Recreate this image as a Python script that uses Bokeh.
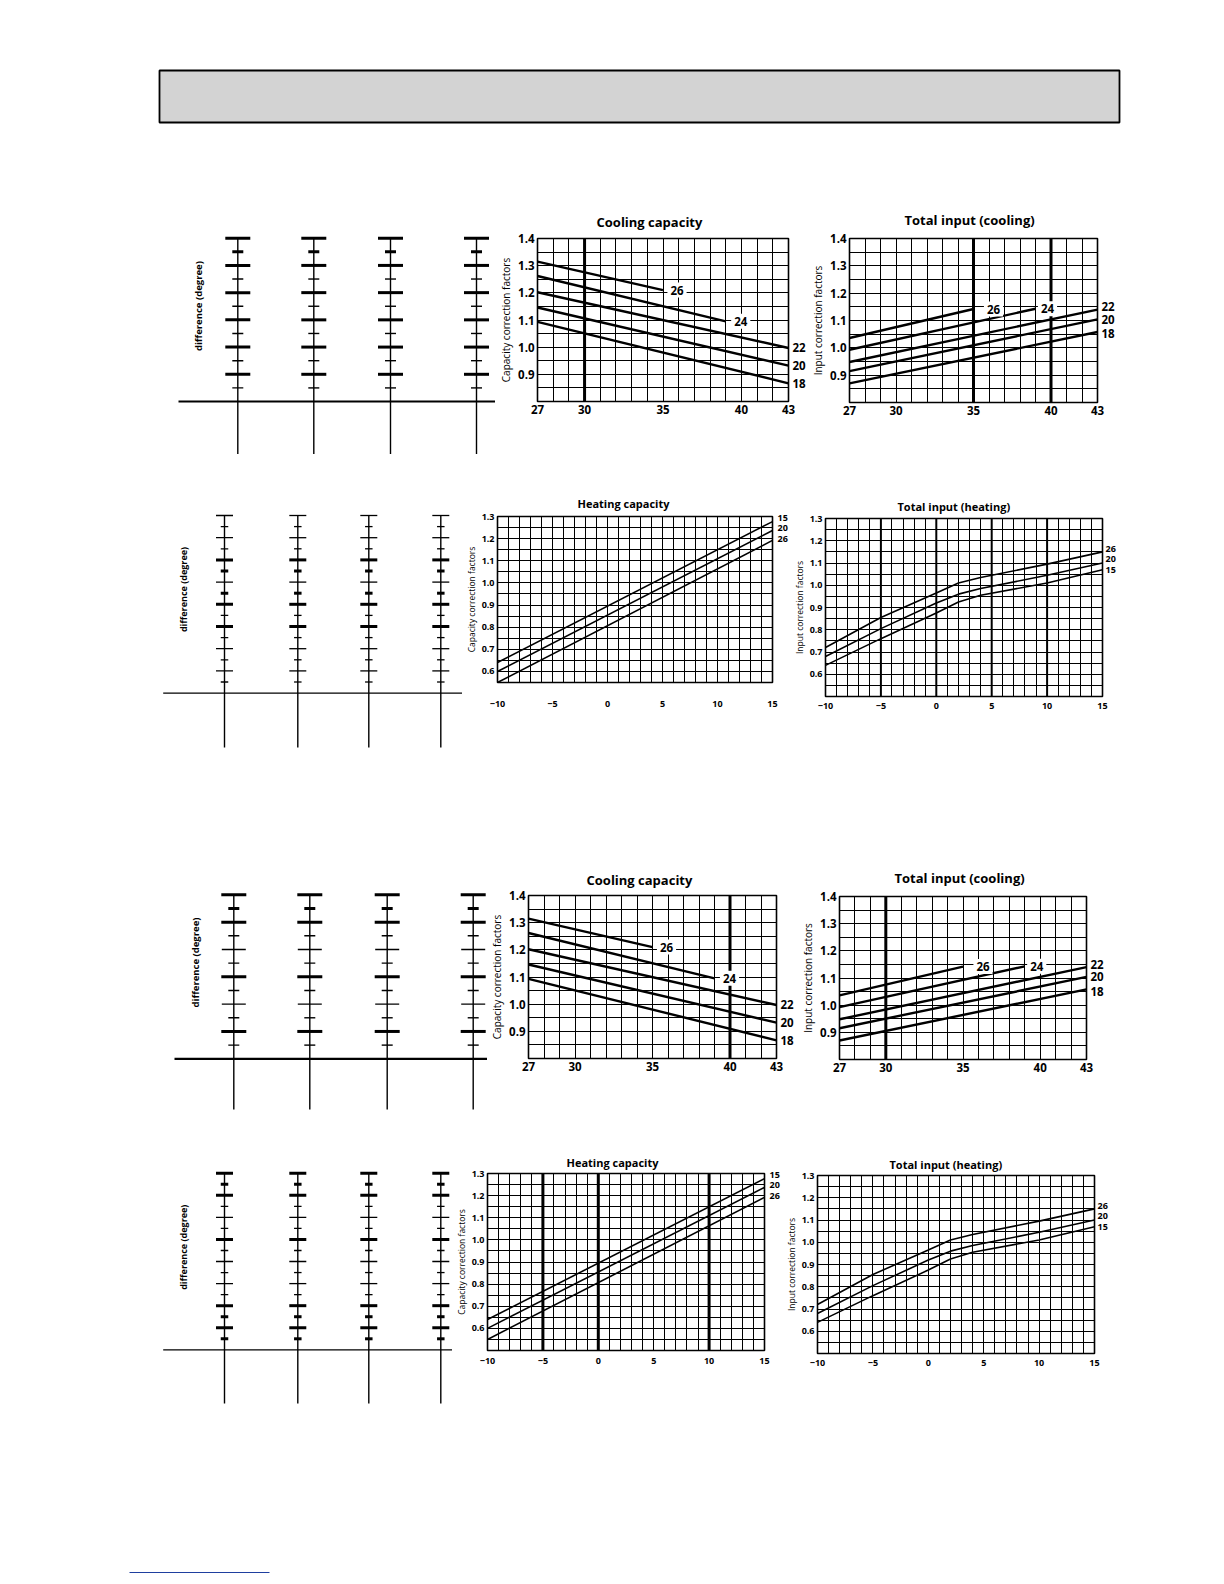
import math
from bokeh.plotting import figure
from bokeh.layouts import column, row
from bokeh.models import (Spacer, FixedTicker, PrintfTickFormatter, Label, Span, Range1d,
                          LinearAxis)
from bokeh.embed import file_html
from bokeh.resources import INLINE

FONT = "Open Sans"

# ---------------- data ----------------
# Cooling: x = outdoor dry-bulb temperature, series = indoor wet-bulb temperature
cool_series = ["26", "24", "22", "20", "18"]
cool_cap_x = [[27, 35], [27, 39], [27, 43], [27, 43], [27, 43]]
cool_cap_y = [[1.315, 1.21], [1.262, 1.095], [1.202, 0.997], [1.146, 0.932], [1.093, 0.867]]
cool_inp_x = [[27, 35], [27, 39], [27, 43], [27, 43], [27, 43]]
cool_inp_y = [[1.036, 1.142], [0.993, 1.143], [0.948, 1.140], [0.915, 1.104], [0.870, 1.058]]
cool_x_ticks = [27, 30, 35, 40, 43]
cool_x_grid = [27, 28, 29, 30, 31, 32, 33, 34, 35, 36, 37, 38, 39, 40, 41, 42, 43]
cool_y_ticks = [0.9, 1.0, 1.1, 1.2, 1.3, 1.4]
cool_y_grid = [0.8, 0.85, 0.9, 0.95, 1.0, 1.05, 1.1, 1.15, 1.2, 1.25, 1.3, 1.35, 1.4]

# Heating: x = outdoor wet-bulb temperature, series = indoor dry-bulb temperature
heat_series = ["15", "20", "26"]
heat_cap_x = [[-10, 15], [-10, 15], [-10, 15]]
heat_cap_y = [[0.64, 1.277], [0.60, 1.237], [0.55, 1.192]]
heat_inp_x = [-10, -5, 0, 2, 4, 10, 15]
heat_inp_y = [[0.64, 0.76, 0.875, 0.925, 0.955, 1.01, 1.07],
              [0.68, 0.805, 0.92, 0.96, 0.985, 1.045, 1.10],
              [0.72, 0.855, 0.965, 1.01, 1.035, 1.095, 1.15]]
heat_x_ticks = [-10, -5, 0, 5, 10, 15]
heat_x_grid = [-10, -9, -8, -7, -6, -5, -4, -3, -2, -1, 0, 1, 2, 3, 4, 5, 6, 7, 8, 9, 10, 11, 12, 13, 14, 15]
heat_y_ticks = [0.6, 0.7, 0.8, 0.9, 1.0, 1.1, 1.2, 1.3]
heat_y_grid = [0.5, 0.55, 0.6, 0.65, 0.7, 0.75, 0.8, 0.85, 0.9, 0.95, 1.0, 1.05, 1.1, 1.15, 1.2, 1.25, 1.3]

# "difference (degree)" ladders
cool_ladder_levels = [1.4, 1.35, 1.3, 1.25, 1.2, 1.15, 1.1, 1.05, 1.0, 0.95, 0.9, 0.85]
cool_ladder_kinds_1 = ["big", "sthick", "big", "small", "big", "small", "big", "small", "big", "small", "big", "small"]
cool_ladder_kinds_2 = ["big", "sthick", "big", "small", "medium", "small", "big", "small", "medium", "small", "big", "small"]
heat_ladder_levels = [1.3, 1.25, 1.2, 1.15, 1.1, 1.05, 1.0, 0.95, 0.9, 0.85, 0.8, 0.75, 0.7, 0.65, 0.6, 0.55]
heat_ladder_kinds_1 = ["medium", "small", "medium", "small", "big", "sthick", "medium", "sthick",
                       "big", "small", "big", "small", "medium", "small", "medium", "small"]
heat_ladder_kinds_2 = ["big", "sthick", "big", "small", "medium", "small", "big", "small",
                       "medium", "small", "medium", "small", "big", "sthick", "big", "sthick"]

# ---------------- styles ----------------
COOL_TICK = {"big": (25, 3.0), "medium": (24, 1.4), "small": (11, 1.4), "sthick": (11, 3.0)}
HEAT_TICK = {"big": (17, 3.0), "medium": (17, 1.3), "small": (7.5, 1.3), "sthick": (7.5, 3.0)}
COOL_CAP_LIFT = {}
COOL_INP_LIFT = {"22": 2.6, "18": -2.0}
HEAT_CAP_LIFT = {"15": 4, "20": 2, "26": 1.5}      # px lift of end labels
HEAT_INP_LIFT = {"15": 0, "20": 4, "26": 3.3}


def base_fig(w, h, **kw):
    p = figure(width=int(round(w)), height=int(round(h)), output_backend="svg",
               toolbar_location=None, **kw)
    p.border_fill_color = "white"
    p.background_fill_color = "white"
    return p


def boxed(p):
    # wrap each figure on its own so that neighbouring frames are not aligned
    return column(p)


def ladder(band, fig_x, cols, lvl_top_page, ppu, levels, kinds, styles, base_val, base_x0,
           line_bottom_page, text_x, text_y_page, text_size):
    top, bot = band
    fl, fr = fig_x
    lvl_top = levels[0]
    y0 = lvl_top - (bot - lvl_top_page) / ppu
    y1 = lvl_top + (lvl_top_page - top) / ppu
    p = base_fig(fr - fl, bot - top, x_range=Range1d(fl, fr), y_range=Range1d(y0, y1),
                 min_border=0, x_axis_type=None, y_axis_type=None)
    p.outline_line_color = None
    p.xgrid.visible = False
    p.ygrid.visible = False
    line_bottom = lvl_top - (line_bottom_page - lvl_top_page) / ppu
    p.segment(x0=cols, y0=[lvl_top] * len(cols), x1=cols, y1=[line_bottom] * len(cols),
              line_color="black", line_width=1.4)
    p.segment(x0=[base_x0], y0=[base_val], x1=[fr], y1=[base_val], line_color="black",
              line_width=2.2 if styles is COOL_TICK else 1.4)
    for kind, (size, lw) in styles.items():
        ys = [lv for lv, k in zip(levels, kinds) if k == kind]
        xs = [c for c in cols for _ in ys]
        yy = [y for _ in cols for y in ys]
        if yy:
            p.scatter(xs, yy, marker="dash", size=size, line_width=lw, line_color="black")
    ty = lvl_top - (text_y_page - lvl_top_page) / ppu
    p.add_layout(Label(x=text_x, y=ty, text="difference (degree)", angle=math.pi / 2,
                       text_align="center", text_baseline="middle", text_font=FONT,
                       text_font_size=text_size, text_font_style="bold", text_color="black"))
    return p


def style_axis(ax, tick_fs, lab_fs, standoff):
    ax.axis_line_color = None
    ax.major_tick_line_color = None
    ax.minor_tick_line_color = None
    ax.major_tick_in = 0
    ax.major_tick_out = 0
    ax.minor_tick_in = 0
    ax.minor_tick_out = 0
    ax.major_label_text_font = FONT
    ax.major_label_text_font_size = tick_fs
    ax.major_label_text_font_style = "bold"
    ax.major_label_text_color = "black"
    ax.major_label_standoff = standoff
    ax.axis_label_text_font = FONT
    ax.axis_label_text_font_size = lab_fs
    ax.axis_label_text_font_style = "normal"
    ax.axis_label_text_color = "black"
    ax.axis_label_standoff = 2


def chart(band, fig_x, frame, xr, yr, xt, xg, yt, yg, title, ylabel, sizes, thick, thick_w,
          title_left, title_standoff, xlab_standoff):
    top, bot = band
    fl, fr = fig_x
    fx0, fx1, fy0, fy1 = frame
    title_fs, tick_fs, lab_fs = sizes
    p = base_fig(fr - fl, bot - top, x_range=Range1d(*xr), y_range=Range1d(*yr),
                 min_border_left=int(round(fx0 - fl)), min_border_right=int(round(fr - fx1)),
                 min_border_top=int(round(fy0 - top)), min_border_bottom=int(round(bot - fy1)))
    p.title.text = title
    p.title.align = "left"
    p.title.offset = title_left - fx0
    p.title.text_font = FONT
    p.title.text_font_size = title_fs
    p.title.text_font_style = "bold"
    p.title.text_color = "black"
    p.title.standoff = title_standoff
    p.xaxis.ticker = FixedTicker(ticks=xt)
    p.yaxis.ticker = FixedTicker(ticks=yt)
    p.yaxis.formatter = PrintfTickFormatter(format="%.1f")
    p.yaxis.axis_label = ylabel
    style_axis(p.xaxis[0], tick_fs, lab_fs, xlab_standoff)
    style_axis(p.yaxis[0], tick_fs, lab_fs, 3)
    p.xgrid.ticker = FixedTicker(ticks=xg)
    p.ygrid.ticker = FixedTicker(ticks=yg)
    p.grid.grid_line_color = "black"
    p.grid.grid_line_alpha = 1.0
    p.grid.grid_line_width = 1
    p.outline_line_color = "black"
    p.outline_line_width = 1.6
    p.outline_line_alpha = 1.0
    for t in thick:
        p.add_layout(Span(location=t, dimension="height", line_color="black", line_width=thick_w))
    p._frame_px = (fy1 - fy0) / (yr[1] - yr[0])
    return p


def end_labels(p, names, ys, lifts, fs, standoff):
    ticks = [round(y + lifts.get(n, 0) / p._frame_px, 4) for n, y in zip(names, ys)]
    ax = LinearAxis(ticker=FixedTicker(ticks=ticks),
                    major_label_overrides={t: n for t, n in zip(ticks, names)})
    style_axis(ax, fs, fs, standoff)
    p.add_layout(ax, "right")


def add_cool_series(p, xs, ys, lw, fs, inner_offsets, lifts):
    right_names, right_ys = [], []
    for name, x, y in zip(cool_series, xs, ys):
        p.line(x, y, line_color="black", line_width=lw)
        if name in inner_offsets:
            p.add_layout(Label(x=x[-1], y=y[-1], x_offset=inner_offsets[name], text=name,
                               text_align="center", text_baseline="middle", text_font=FONT,
                               text_font_size=fs, text_font_style="bold", text_color="black",
                               background_fill_color="white", background_fill_alpha=1.0,
                               padding=3))
        else:
            right_names.append(name)
            right_ys.append(y[-1])
    end_labels(p, right_names, right_ys, lifts, fs, 4)


def add_heat_series(p, xs_list, ys, lw, fs, lifts, standoff):
    for name, x, y in zip(heat_series, xs_list, ys):
        p.line(x, y, line_color="black", line_width=lw)
    end_labels(p, heat_series, [y[-1] for y in ys], lifts, fs, standoff)


# ---------------- header ----------------
BAND_A = (0, 140)
header = base_fig(1130, BAND_A[1] - BAND_A[0], x_range=Range1d(0, 1), y_range=Range1d(0, 1),
                  min_border_left=159, min_border_right=11, min_border_top=70, min_border_bottom=18,
                  x_axis_type=None, y_axis_type=None)
header.background_fill_color = "#d3d3d3"
header.outline_line_color = "black"
header.outline_line_width = 1.8
header.xgrid.visible = False
header.ygrid.visible = False

COOL_SIZES = ("13px", "11.5px", "10px")
HEAT_SIZES = ("11px", "9px", "8.5px")

# ---------------- group 1 : cooling row ----------------
BAND_B = (140, 465)
lad_b = ladder(BAND_B, (160, 495), [237.3, 313.3, 390.0, 476.0], 237.7, 272.2,
               cool_ladder_levels, cool_ladder_kinds_1, COOL_TICK, 0.8, 178, 453.5, 198, 305.6, "9.5px")
cap_b = chart(BAND_B, (495, 808), (537, 788, 238, 401), (27, 43), (0.8, 1.4), cool_x_ticks, cool_x_grid,
              cool_y_ticks, cool_y_grid, "Cooling capacity", "Capacity correction factors",
              COOL_SIZES, [30], 3, 596, 15, 3)
add_cool_series(cap_b, cool_cap_x, cool_cap_y, 2.4, "11.5px", {"26": 14, "24": 15}, COOL_CAP_LIFT)
inp_b = chart(BAND_B, (808, 1130), (846, 1097, 238, 402), (27, 43), (0.8, 1.4), cool_x_ticks, cool_x_grid,
              cool_y_ticks, cool_y_grid, "Total input (cooling)", "Input correction factors",
              COOL_SIZES, [35, 40], 3, 901, 20, 3)
add_cool_series(inp_b, cool_inp_x, cool_inp_y, 2.4, "11.5px", {"26": 20, "24": 12}, COOL_INP_LIFT)
row_b = row(Spacer(width=160, height=BAND_B[1] - BAND_B[0]), boxed(lad_b), boxed(cap_b), boxed(inp_b))

# ---------------- group 1 : heating row ----------------
BAND_C = (465, 770)
lad_c = ladder(BAND_C, (150, 462), [224.0, 297.3, 368.3, 440.3], 515, 222,
               heat_ladder_levels, heat_ladder_kinds_1, HEAT_TICK, 0.5, 162.7, 747, 183.3, 589, "9px")
hcap_c = chart(BAND_C, (462, 790), (493, 774, 516, 682), (-10, 15), (0.55, 1.3), heat_x_ticks, heat_x_grid,
               heat_y_ticks, heat_y_grid, "Heating capacity", "Capacity correction factors",
               HEAT_SIZES, [], 1, 573, 11, 18)
add_heat_series(hcap_c, heat_cap_x, heat_cap_y, 1.6, "9px", HEAT_CAP_LIFT, 5)
hinp_c = chart(BAND_C, (790, 1122), (821, 1102, 518, 696), (-10, 15), (0.5, 1.3), heat_x_ticks, heat_x_grid,
               heat_y_ticks, heat_y_grid, "Total input (heating)", "Input correction factors",
               HEAT_SIZES, [-5, 0, 5, 10], 2, 893, 10, 6)
add_heat_series(hinp_c, [heat_inp_x] * 3, heat_inp_y, 1.6, "9px", HEAT_INP_LIFT, 3)
row_c = row(Spacer(width=150, height=BAND_C[1] - BAND_C[0]), boxed(lad_c), boxed(hcap_c), boxed(hinp_c))

BAND_D = (770, 840)
gap_d = Spacer(width=10, height=BAND_D[1] - BAND_D[0])

# ---------------- group 2 : cooling row ----------------
BAND_E = (840, 1125)
lad_e = ladder(BAND_E, (160, 487), [233.3, 309.3, 386.7, 472.7], 894.3, 273.3,
               cool_ladder_levels, cool_ladder_kinds_2, COOL_TICK, 0.8, 174, 1109, 195, 962, "9.5px")
cap_e = chart(BAND_E, (487, 798), (525, 776, 895, 1058), (27, 43), (0.8, 1.4), cool_x_ticks, cool_x_grid,
              cool_y_ticks, cool_y_grid, "Cooling capacity", "Capacity correction factors",
              COOL_SIZES, [40], 3, 583, 13, 3)
add_cool_series(cap_e, cool_cap_x, cool_cap_y, 2.4, "11.5px", {"26": 14, "24": 15}, COOL_CAP_LIFT)
inp_e = chart(BAND_E, (798, 1120), (834, 1086, 896, 1059), (27, 43), (0.8, 1.4), cool_x_ticks, cool_x_grid,
              cool_y_ticks, cool_y_grid, "Total input (cooling)", "Input correction factors",
              COOL_SIZES, [30], 3, 889, 20, 3)
add_cool_series(inp_e, cool_inp_x, cool_inp_y, 2.4, "11.5px", {"26": 20, "24": 12}, COOL_INP_LIFT)
row_e = row(Spacer(width=160, height=BAND_E[1] - BAND_E[0]), boxed(lad_e), boxed(cap_e), boxed(inp_e))

# ---------------- group 2 : heating row ----------------
BAND_F = (1125, 1420)
lad_f = ladder(BAND_F, (150, 452), [224.0, 297.3, 368.3, 440.3], 1172.7, 220.8,
               heat_ladder_levels, heat_ladder_kinds_2, HEAT_TICK, 0.5, 162.7, 1403, 183.3, 1246.7, "9px")
hcap_f = chart(BAND_F, (452, 782), (485, 765, 1173, 1350), (-10, 15), (0.5, 1.3), heat_x_ticks, heat_x_grid,
               heat_y_ticks, heat_y_grid, "Heating capacity", "Capacity correction factors",
               HEAT_SIZES, [-5, 0, 10], 3, 564, 7, 7)
add_heat_series(hcap_f, heat_cap_x, heat_cap_y, 1.6, "9px", HEAT_CAP_LIFT, 5)
hinp_f = chart(BAND_F, (782, 1120), (812, 1094, 1175, 1353), (-10, 15), (0.5, 1.3), heat_x_ticks, heat_x_grid,
               heat_y_ticks, heat_y_grid, "Total input (heating)", "Input correction factors",
               HEAT_SIZES, [], 1, 884, 7, 6)
add_heat_series(hinp_f, [heat_inp_x] * 3, heat_inp_y, 1.6, "9px", HEAT_INP_LIFT, 3)
row_f = row(Spacer(width=150, height=BAND_F[1] - BAND_F[0]), boxed(lad_f), boxed(hcap_f), boxed(hinp_f))

# ---------------- footer rule ----------------
BAND_G = (1420, 1580)
footer = base_fig(300, BAND_G[1] - BAND_G[0], x_range=Range1d(0, 300),
                  y_range=Range1d(BAND_G[1], BAND_G[0]), min_border=0, x_axis_type=None, y_axis_type=None)
footer.outline_line_color = None
footer.xgrid.visible = False
footer.ygrid.visible = False
footer.segment(x0=[129], y0=[1572], x1=[269], y1=[1572], line_color="#1f3f9f", line_width=1)

layout = column(boxed(header), row_b, row_c, gap_d, row_e, row_f, boxed(footer))

open("out.html", "w").write(file_html(layout, INLINE))
